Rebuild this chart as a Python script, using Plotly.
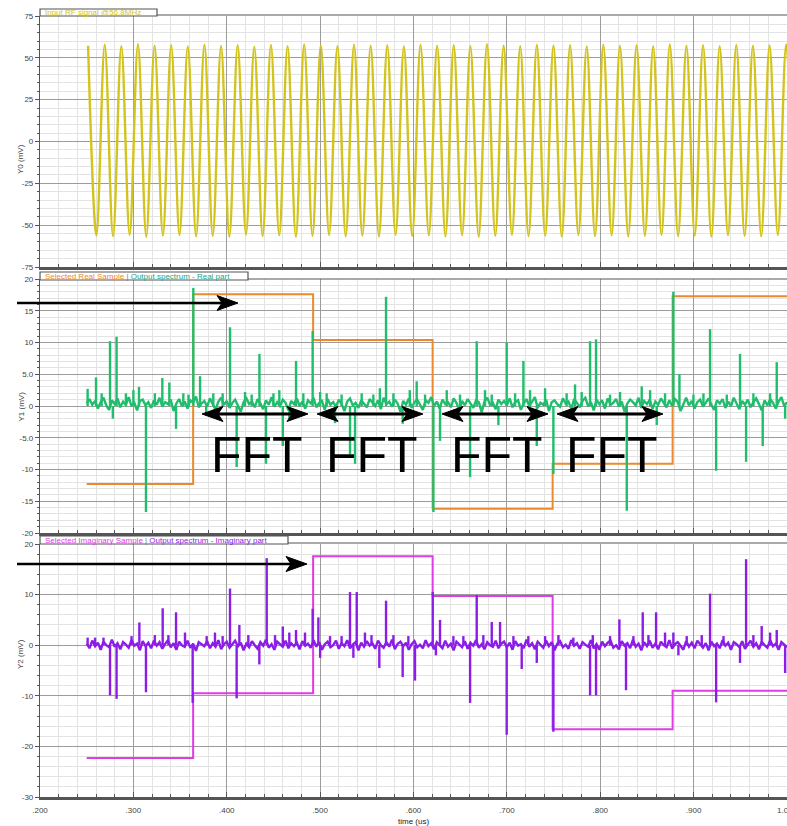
import plotly.graph_objects as go

# ---------------- data ----------------
TIME_TICKS = [0.2, 0.3, 0.4, 0.5, 0.6, 0.7, 0.8, 0.9, 1.0]
TIME_TICK_LABELS = [".200", ".300", ".400", ".500", ".600", ".700", ".800", ".900", "1.000"]

Y0_TICKS = [-75, -50, -25, 0, 25, 50, 75]
Y0_TICK_LABELS = ["-75", "-50", "-25", "0", "25", "50", "75"]
Y1_TICKS = [-20, -15, -10, -5, 0, 5, 10, 15, 20]
Y1_TICK_LABELS = ["-20", "-15", "-10", "-5.0", "0", "5.0", "10", "15", "20"]
Y2_TICKS = [-30, -20, -10, 0, 10, 20]
Y2_TICK_LABELS = ["-30", "-20", "-10", "0", "10", "20"]

# RF input: crest / trough value of every half period of the carrier
RF_T0 = 0.2515
RF_HALF_PERIOD = 0.0089
RF_EXTREMA = [
    57.2, -56.1, 57.8, -56.6, 56.9, -55.8, 58.1, -56.9, 57.3, -56.2,
    57.6, -55.9, 56.8, -56.7, 57.9, -56.3, 57.1, -56.8, 57.5, -55.7,
    56.7, -56.5, 57.7, -56.0, 57.0, -56.9, 58.0, -56.4, 57.4, -55.9,
    56.9, -56.6, 57.8, -56.2, 57.2, -56.8, 57.6, -55.8, 56.8, -56.4,
    57.9, -56.1, 57.3, -56.7, 57.5, -56.0, 57.0, -56.9, 58.1, -56.3,
    57.2, -55.8, 56.9, -56.6, 57.7, -56.2, 57.4, -56.8, 57.6, -55.9,
    56.8, -56.5, 57.8, -56.1, 57.1, -56.7, 57.5, -56.3, 57.0, -55.8,
    58.0, -56.6, 57.3, -56.2, 57.6, -56.9, 56.9, -56.0, 57.7, -56.4,
    57.2, -56.7, 57.4, -55.9, 57.8, -56.3,
]

# FFT input samples, held between the sample instants
SAMPLE_EDGES = [0.25, 0.364, 0.4925, 0.6205, 0.749, 0.8775, 1.0]
REAL_SAMPLES = [-12.3, 17.6, 10.4, -16.2, -9.1, 17.3]
IMAG_SAMPLES = [-22.3, -9.5, 17.6, 9.7, -16.6, -9.0]

# output spectrum: noise floor on a regular time grid
SPEC_T0 = 0.25
SPEC_DT = 0.003
REAL_FLOOR = [
    0.4, 1.1, 0.2, 0.8, -0.4, 0.6, 1.3, 0.1, -0.6, 0.9, 0.3, 1.2, -0.2, 0.7, 0.2, 1.4, 0.0, 0.5, -0.7, 0.8, 1.0, 0.1, 0.6, -0.3, 0.9,
    0.2, 1.3, -0.1, 0.6, 0.3, 1.0, -0.8, 0.4, 1.1, 0.0, 0.7, -0.4, 0.9, 0.5, 1.5, -0.2, 0.4, 0.8, -0.1, 1.2, 0.3, -0.6, 0.7, 1.3, 0.2,
    0.8, -0.3, 0.5, 1.0, 0.1, -0.9, 0.6, 1.2, 0.3, 0.7, -0.2, 1.1, 0.4, -0.5, 0.9, 0.2, 1.4, -0.1, 0.6, 0.0, 1.0, 0.5, -0.7, 0.8, 0.3,
    1.2, 0.0, 0.7, -0.4, 0.9, 0.4, 1.3, -0.2, 0.5, 0.8, -0.6, 1.1, 0.2, 0.6, -0.1, 1.0, 0.3, -0.8, 0.7, 1.2, 0.1, 0.5, -0.3, 0.9, 0.4,
    -0.2, 1.1, 0.6, 0.0, 0.9, -0.5, 1.3, 0.3, 0.7, -0.1, 1.0, 0.4, -0.9, 0.8, 0.2, 1.2, -0.3, 0.6, 1.0, 0.1, -0.6, 0.9, 0.5, 1.4, 0.0,
    0.7, -0.4, 1.0, 0.3, 0.6, -0.2, 1.2, 0.5, -0.7, 0.8, 0.1, 1.1, 0.4, -0.3, 0.9, 0.6, -1.0, 0.7, 1.3, 0.2, 0.5, -0.5, 1.0, 0.3, 0.8,
    0.1, 1.2, -0.2, 0.6, 0.9, -0.6, 0.4, 1.1, 0.0, 0.7, 1.4, -0.3, 0.5, 0.2, 1.0, -0.8, 0.6, 0.9, 0.3, -0.1, 1.2, 0.4, 0.7, -0.5, 1.1,
    0.5, -0.2, 0.8, 1.3, 0.0, 0.6, -0.7, 1.0, 0.3, 0.9, -0.4, 1.2, 0.2, 0.5, 1.1, -0.1, 0.7, -0.9, 0.4, 1.0, 0.6, 0.1, 1.3, -0.3, 0.8,
    0.3, 1.0, -0.5, 0.7, 0.2, 1.2, 0.5, -0.2, 0.9, 0.0, 1.1, 0.6, -0.8, 0.4, 1.3, 0.1, 0.8, -0.4, 0.6, 1.0, -0.1, 0.5, 1.2, 0.2, -0.6,
    0.9, 0.4, 1.1, -0.3, 0.7, 0.0, 1.3, 0.5, -0.5, 0.8, 0.2, 1.0, -0.2, 0.6, 1.2, 0.3, -0.7, 0.9, 0.1, 1.1, 0.5, -0.4, 0.7, 1.4, 0.0,
    0.6,
]
IMAG_FLOOR = [
    0.3, -0.6, 0.9, -0.2, 0.5, -0.9, 0.7, 0.0, -0.4, 1.1, -0.3, 0.4, -0.8, 0.6, 0.1, -0.5, 1.0, -0.1, 0.3, -1.0, 0.8, -0.2, 0.5, -0.6, 0.9,
    -0.1, 0.6, -0.7, 0.2, 1.0, -0.4, 0.4, -0.9, 0.7, 0.0, -0.3, 0.9, -0.5, 0.3, -1.1, 0.6, 0.1, -0.2, 0.8, -0.6, 0.4, -0.3, 1.0, -0.8, 0.2,
    0.7, -0.5, 0.1, 0.9, -0.2, 0.5, -1.0, 0.3, -0.4, 0.8, 0.0, -0.7, 0.6, -0.1, 1.1, -0.5, 0.2, -0.9, 0.7, 0.1, -0.3, 0.9, -0.6, 0.4, -0.2,
    0.5, -0.8, 0.8, -0.1, 0.3, -0.5, 1.0, -0.3, 0.6, -0.9, 0.2, 0.7, -0.4, 0.0, 0.9, -0.7, 0.4, -0.2, 1.0, -0.6, 0.1, 0.6, -1.0, 0.5, -0.3,
    0.8, -0.1, 0.4, -0.7, 0.9, 0.0, -0.5, 0.6, -0.3, 1.1, -0.8, 0.3, 0.7, -0.2, 0.5, -0.9, 0.2, 0.8, -0.4, 0.1, -0.6, 1.0, -0.2, 0.4, -0.8,
    0.6, 0.0, -0.6, 0.9, -0.3, 0.3, -1.0, 0.7, 0.1, -0.4, 0.8, -0.7, 0.5, -0.1, 1.0, -0.5, 0.2, -0.8, 0.6, 0.0, -0.3, 0.9, -0.6, 0.3, 0.7,
    -0.4, 0.5, -0.9, 0.8, -0.1, 0.2, -0.6, 1.1, -0.3, 0.4, -0.8, 0.7, 0.0, -0.5, 0.9, -0.2, 0.6, -1.0, 0.3, 0.8, -0.4, 0.1, -0.7, 1.0, -0.1,
    0.4, -0.7, 0.6, 0.1, -0.3, 1.0, -0.6, 0.2, -0.9, 0.7, -0.2, 0.5, 0.9, -0.5, 0.0, -0.8, 0.8, -0.1, 0.4, -0.6, 1.1, -0.3, 0.3, -1.0, 0.6,
    -0.2, 0.9, -0.5, 0.3, -0.8, 0.7, 0.0, -0.4, 1.0, -0.7, 0.2, 0.6, -0.1, -0.9, 0.8, -0.3, 0.5, -0.6, 0.9, 0.1, -0.5, 0.4, -1.0, 0.7, -0.2,
    0.3, -0.6, 1.0, -0.1, 0.5, -0.9, 0.6, 0.2, -0.4, 0.8, -0.7, 0.1, 0.9, -0.3, 0.4, -0.8, 0.7, 0.0, -0.5, 1.0, -0.2, 0.3, -0.9, 0.6, 0.1,
    -0.4,
]

# output spectrum: spectral lines (time, mV)
REAL_LINE_T = [
    0.251, 0.260, 0.266, 0.275, 0.278, 0.282, 0.292, 0.300, 0.306, 0.3135,
    0.323, 0.331, 0.3385, 0.3457, 0.3535, 0.359, 0.3642, 0.3714, 0.378, 0.3856,
    0.3956, 0.4035, 0.4106, 0.4196, 0.4267, 0.435, 0.442, 0.450, 0.4563, 0.460,
    0.467, 0.4742, 0.482, 0.492, 0.500, 0.507, 0.516, 0.523, 0.532, 0.5374,
    0.5445, 0.557, 0.564, 0.5706, 0.5785, 0.5884, 0.596, 0.6034, 0.6124, 0.6213,
    0.6284, 0.6356, 0.6498, 0.6606, 0.6677, 0.6766, 0.6838, 0.6909, 0.6998, 0.7088,
    0.7177, 0.7248, 0.732, 0.7409, 0.7498, 0.764, 0.773, 0.7801, 0.7891, 0.7955,
    0.8105, 0.8212, 0.8284, 0.8444, 0.8534, 0.8605, 0.8694, 0.8783, 0.8848, 0.8998,
    0.9105, 0.9176, 0.9241, 0.9355, 0.9497, 0.9562, 0.964, 0.974, 0.9819, 0.989,
    0.998,
]
REAL_LINE_V = [
    2.7, 4.5, 2.0, 10.2, -2.0, 10.9, 2.0, 2.5, 3.0, -16.7,
    2.0, 4.4, 3.7, -3.6, 2.0, 1.8, 18.6, 4.7, -1.5, 2.0,
    2.0, 12.4, -9.6, 2.2, 1.8, 8.2, -9.1, 2.0, 2.5, -6.3,
    -2.0, 7.1, 2.0, 11.8, 2.2, 2.0, -2.7, 1.8, -7.6, -9.1,
    2.0, 1.8, 2.8, 17.2, 2.0, -2.8, 2.5, 3.9, 1.8, -16.7,
    -5.5, 2.5, 1.8, -11.2, 10.2, 2.5, 1.8, -3.0, 10.0, 2.0,
    7.1, 2.5, -6.3, 2.8, -10.7, 2.0, 3.4, 2.2, 10.2, 10.5,
    1.8, 2.2, -16.5, 3.1, 2.5, -3.0, 2.0, 18.0, 5.0, 1.8,
    2.0, 12.1, -10.2, 1.8, 8.2, -8.8, 2.0, -6.3, 2.0, 6.9,
    -2.0,
]
IMAG_LINE_T = [
    0.251, 0.259, 0.268, 0.275, 0.282, 0.298, 0.3064, 0.3135, 0.323, 0.3314,
    0.3375, 0.3457, 0.3553, 0.3635, 0.3785, 0.3874, 0.3956, 0.4035, 0.4106, 0.4135,
    0.4231, 0.4349, 0.4428, 0.4517, 0.460, 0.467, 0.4742, 0.4838, 0.492, 0.4981,
    0.500, 0.5106, 0.523, 0.532, 0.5356, 0.5392, 0.548, 0.555, 0.5634, 0.5706,
    0.5785, 0.5884, 0.5945, 0.6016, 0.6206, 0.624, 0.6284, 0.6427, 0.6534, 0.6606,
    0.6677, 0.6748, 0.6838, 0.6927, 0.6998, 0.707, 0.7159, 0.723, 0.732, 0.7409,
    0.7498, 0.7552, 0.7712, 0.7891, 0.792, 0.7955, 0.8105, 0.8205, 0.8276, 0.8355,
    0.8455, 0.8516, 0.8598, 0.8694, 0.8783, 0.8837, 0.8926, 0.9087, 0.9176, 0.9241,
    0.932, 0.9497, 0.9562, 0.964, 0.9729, 0.9819, 0.989, 0.998,
]
IMAG_LINE_V = [
    1.5, 1.5, 1.5, -9.9, -10.6, 1.8, 4.5, -9.3, 2.0, 7.3,
    2.0, 6.5, 2.5, -11.4, 1.8, 2.5, 1.8, 11.2, -10.5, 4.0,
    2.0, -3.8, 17.2, 2.0, 3.7, 2.5, 3.0, 2.5, 7.2, 5.5,
    -2.5, 1.8, 1.8, 10.5, -2.5, 10.5, 2.5, 2.0, -4.5, 8.8,
    2.0, -6.3, 1.8, -7.0, 10.5, -2.0, 5.0, 1.8, 1.8, -11.4,
    9.9, 2.0, 4.6, 4.6, -17.7, 1.8, -4.7, 1.8, -3.5, 1.8,
    -17.1, 2.0, 1.5, -9.9, 2.0, -9.9, 1.8, 5.1, -8.9, 1.8,
    6.5, 2.0, 6.5, 2.5, 2.5, -2.0, 1.8, 2.0, 10.2, -11.3,
    1.8, -3.5, 17.0, 2.0, 3.8, 2.5, 3.0, -5.5,
]

# ---------------- colours ----------------
C_RF = "#d3c31d"
C_REAL = "#20bd6c"
C_REAL_SAMPLE = "#ea8a2c"
C_IMAG = "#8c1de6"
C_IMAG_SAMPLE = "#e03ce6"
C_MAJOR = "#9c9c9c"
C_MINOR = "#e3e3e3"
C_FRAME = "#555555"
C_TEXT = "#444444"

# ---------------- page geometry (pixels) ----------------
W, H = 787, 826
L, R, T, B = 40, 787, 16, 797


def fx(px):
    return (px - L) / (R - L)


def fy(py):
    return (B - py) / (B - T)


TOP_PANEL = (16, 267)
MID_PANEL = (279, 533)
BOT_PANEL = (544, 797)


def stems(ts, vs):
    xs, ys = [], []
    for t, v in zip(ts, vs):
        xs += [t, t, None]
        ys += [0, v, None]
    return xs, ys


fig = go.Figure()

# RF input
rf_t = [RF_T0 + k * RF_HALF_PERIOD for k in range(len(RF_EXTREMA))]
fig.add_trace(go.Scatter(x=rf_t, y=RF_EXTREMA, mode="lines",
                         line=dict(color=C_RF, width=2.4, shape="spline", smoothing=1.0),
                         xaxis="x", yaxis="y", showlegend=False))

# real part
fig.add_trace(go.Scatter(x=SAMPLE_EDGES, y=REAL_SAMPLES + [REAL_SAMPLES[-1]], mode="lines",
                         line=dict(color=C_REAL_SAMPLE, width=2, shape="hv"),
                         xaxis="x2", yaxis="y2", showlegend=False))
spec_t = [SPEC_T0 + k * SPEC_DT for k in range(len(REAL_FLOOR))]
fig.add_trace(go.Scatter(x=spec_t, y=REAL_FLOOR, mode="lines",
                         line=dict(color=C_REAL, width=2.4),
                         xaxis="x2", yaxis="y2", showlegend=False))
sx, sy = stems(REAL_LINE_T, REAL_LINE_V)
fig.add_trace(go.Scatter(x=sx, y=sy, mode="lines", line=dict(color=C_REAL, width=2.4),
                         xaxis="x2", yaxis="y2", showlegend=False))

# imaginary part
fig.add_trace(go.Scatter(x=SAMPLE_EDGES, y=IMAG_SAMPLES + [IMAG_SAMPLES[-1]], mode="lines",
                         line=dict(color=C_IMAG_SAMPLE, width=2, shape="hv"),
                         xaxis="x3", yaxis="y3", showlegend=False))
spec_t2 = [SPEC_T0 + k * SPEC_DT for k in range(len(IMAG_FLOOR))]
fig.add_trace(go.Scatter(x=spec_t2, y=IMAG_FLOOR, mode="lines",
                         line=dict(color=C_IMAG, width=2.4),
                         xaxis="x3", yaxis="y3", showlegend=False))
sx, sy = stems(IMAG_LINE_T, IMAG_LINE_V)
fig.add_trace(go.Scatter(x=sx, y=sy, mode="lines", line=dict(color=C_IMAG, width=2.4),
                         xaxis="x3", yaxis="y3", showlegend=False))

tick_font = dict(family="Liberation Sans, Arial", size=8, color=C_TEXT)


def xaxis_cfg(anchor, labels):
    # the last label sits on the page edge; it is drawn separately so the
    # plot area keeps its full width
    return dict(
        anchor=anchor, domain=[0, 1], range=[0.2, 1.0], automargin=False,
        tickvals=TIME_TICKS[:-1], ticktext=TIME_TICK_LABELS[:-1], showticklabels=labels,
        ticklabelstandoff=4,
        showgrid=True, gridcolor=C_MAJOR, gridwidth=1,
        minor=dict(dtick=0.02, tick0=0.2, showgrid=True, gridcolor=C_MINOR, gridwidth=1,
                   ticks="inside", ticklen=3, tickcolor=C_FRAME),
        ticks="inside", ticklen=5, tickcolor=C_FRAME,
        showline=True, linecolor=C_FRAME, linewidth=2.5,
        zeroline=False, tickfont=tick_font,
    )


def yaxis_cfg(anchor, panel, rng, vals, texts, minor):
    return dict(
        anchor=anchor, domain=[fy(panel[1]), fy(panel[0])], range=rng, automargin=False,
        tickvals=vals, ticktext=texts,
        showgrid=True, gridcolor=C_MAJOR, gridwidth=1,
        minor=dict(dtick=minor, tick0=0, showgrid=True, gridcolor=C_MINOR, gridwidth=1,
                   ticks="outside", ticklen=2, tickcolor=C_FRAME),
        ticks="outside", ticklen=4, tickcolor=C_FRAME,
        showline=True, linecolor=C_FRAME, linewidth=1.2,
        zeroline=False, tickfont=tick_font,
    )


fig.update_layout(
    width=W, height=H,
    margin=dict(l=L, r=W - R, t=T, b=H - B, pad=0, autoexpand=False),
    paper_bgcolor="white", plot_bgcolor="white",
    showlegend=False,
    xaxis=xaxis_cfg("y", False),
    xaxis2=xaxis_cfg("y2", False),
    xaxis3=xaxis_cfg("y3", True),
    yaxis=yaxis_cfg("x", TOP_PANEL, [-75, 75], Y0_TICKS, Y0_TICK_LABELS, 5),
    yaxis2=yaxis_cfg("x2", MID_PANEL, [-20, 20], Y1_TICKS, Y1_TICK_LABELS, 1),
    yaxis3=yaxis_cfg("x3", BOT_PANEL, [-30, 20], Y2_TICKS, Y2_TICK_LABELS, 2),
)

shapes = []
annotations = []

# final time label at the right page edge
annotations.append(dict(xref="x3", yref="paper", x=TIME_TICKS[-1], y=fy(810),
                        text=TIME_TICK_LABELS[-1], showarrow=False, xanchor="center", yanchor="middle",
                        font=tick_font))

# legend tabs along the top edge of each panel
tabs = [
    (9, 16, 157, '<span style="color:%s">Input RF signal @56.8MHz</span>' % C_RF),
    (272, 280, 248, '<span style="color:%s">Selected Real Sample</span>'
                    '<span style="color:#777"> | </span>'
                    '<span style="color:#1aa58a">Output spectrum - Real part</span>' % C_REAL_SAMPLE),
    (536, 544, 288, '<span style="color:%s">Selected Imaginary Sample</span>'
                    '<span style="color:#777"> | </span>'
                    '<span style="color:%s">Output spectrum - Imaginary part</span>' % (C_IMAG_SAMPLE, C_IMAG)),
]
for top, bot, right, label in tabs:
    shapes.append(dict(type="rect", xref="paper", yref="paper",
                       x0=fx(L), x1=fx(right), y0=fy(bot), y1=fy(top),
                       fillcolor="white", line=dict(color=C_FRAME, width=1.2), layer="above"))
    shapes.append(dict(type="line", xref="paper", yref="paper",
                       x0=fx(right), x1=fx(R), y0=fy(bot - 1), y1=fy(bot - 1),
                       line=dict(color=C_FRAME, width=1.2), layer="above"))
    annotations.append(dict(xref="paper", yref="paper", x=fx(L + 3), y=fy((top + bot) / 2),
                            xanchor="left", yanchor="middle", text=label, showarrow=False,
                            font=dict(family="Liberation Sans, Arial", size=8)))

# axis titles
for name, panel in (("Y0 (mV)", TOP_PANEL), ("Y1 (mV)", MID_PANEL), ("Y2 (mV)", BOT_PANEL)):
    annotations.append(dict(xref="paper", yref="paper", x=fx(14), y=fy((panel[0] + panel[1]) / 2),
                            text=name, textangle=-90, showarrow=False,
                            font=dict(family="Liberation Sans, Arial", size=8, color=C_TEXT)))
annotations.append(dict(xref="paper", yref="paper", x=fx(413), y=fy(821), text="time (us)",
                        showarrow=False, yanchor="middle",
                        font=dict(family="Liberation Sans, Arial", size=8, color="#222")))


def arrow_head(xt, y, direction, length=21, half=7.5, notch=5):
    d = direction
    return dict(type="path", xref="paper", yref="paper", layer="above",
                path="M %f,%f L %f,%f L %f,%f L %f,%f Z" % (
                    fx(xt), fy(y),
                    fx(xt - d * length), fy(y - half),
                    fx(xt - d * (length - notch)), fy(y),
                    fx(xt - d * length), fy(y + half)),
                fillcolor="black", line=dict(color="black", width=1))


def shaft(x0, x1, y, w):
    return dict(type="line", xref="paper", yref="paper", layer="above",
                x0=fx(x0), x1=fx(x1), y0=fy(y), y1=fy(y), line=dict(color="black", width=w))


# sample-pointer arrows
for tail, tip, y in ((17, 238, 303), (17, 307, 564)):
    shapes.append(shaft(tail, tip - 15, y, 2.6))
    shapes.append(arrow_head(tip, y, 1))

# FFT windows
for left, right in ((202, 308), (317, 423), (442, 548), (557, 663)):
    shapes.append(shaft(left + 15, right - 15, 414, 3.2))
    shapes.append(arrow_head(right, 414, 1))
    shapes.append(arrow_head(left, 414, -1))
    annotations.append(dict(xref="paper", yref="paper", x=fx((left + right) / 2 + 2), y=fy(455),
                            text="FFT", showarrow=False, xanchor="center", yanchor="middle",
                            font=dict(family="Liberation Sans, Arial", size=50, color="black")))

fig.update_layout(shapes=shapes, annotations=annotations)
fig.write_html("out.html")
